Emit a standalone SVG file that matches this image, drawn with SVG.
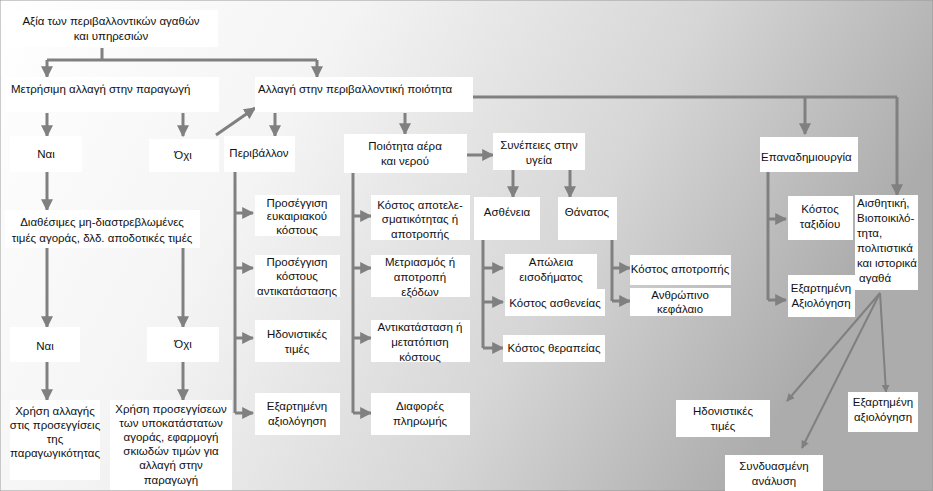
<svg xmlns="http://www.w3.org/2000/svg" width="933" height="491" viewBox="0 0 933 491">
<defs>
<linearGradient id="bg" x1="0" y1="0" x2="1" y2="0.3">
<stop offset="0" stop-color="#ffffff"/><stop offset="0.35" stop-color="#f4f4f4"/><stop offset="0.7" stop-color="#d6d6d6"/><stop offset="1" stop-color="#acacac"/>
</linearGradient>
<marker id="ah" viewBox="0 0 10 10" refX="9" refY="5" markerWidth="4" markerHeight="4" orient="auto" markerUnits="strokeWidth"><path d="M0,0 L10,5 L0,10 z" fill="#808080"/></marker>
</defs>
<style>
.b{fill:#ffffff}
text{font-family:"Liberation Sans",Arial,sans-serif;font-size:11.5px;fill:#111;text-anchor:middle}
.l{text-anchor:start}
.c path{fill:none;stroke:#808080;stroke-width:3}
.c .a{marker-end:url(#ah)}
</style>
<rect width="933" height="491" fill="url(#bg)" stroke="#999"/>
<g class="c">
<path d="M102,48 V60 M47,60 H317"/>
<path class="a" d="M47,60 V77"/><path class="a" d="M317,60 V77"/>
<path class="a" d="M47,113 V136"/><path class="a" d="M183,113 V136"/><path class="a" d="M275,113 V136"/><path class="a" d="M405,113 V134"/>
<path class="a" d="M216,135 L255,108"/>
<path class="a" d="M448,155 H493"/>
<path class="a" d="M47,172 V210"/>
<path class="a" d="M47,248 V327"/><path class="a" d="M183,248 V327"/>
<path class="a" d="M47,362 V400"/><path class="a" d="M183,362 V400"/>
<path d="M235,172 V413"/>
<path class="a" d="M235,213 H253"/><path class="a" d="M235,268 H253"/><path class="a" d="M235,338 H253"/><path class="a" d="M235,413 H253"/>
<path d="M353,173 V413"/>
<path class="a" d="M353,216 H371"/><path class="a" d="M353,268 H371"/><path class="a" d="M353,338 H371"/><path class="a" d="M353,413 H371"/>
<path class="a" d="M513,170 V197"/><path class="a" d="M570,170 V197"/>
<path d="M483,240 V348"/>
<path class="a" d="M483,268 H503"/><path class="a" d="M483,302 H503"/><path class="a" d="M483,348 H503"/>
<path d="M612,240 V301"/>
<path class="a" d="M612,268 H630"/><path class="a" d="M612,301 H630"/>
<path d="M473,97 H897"/>
<path class="a" d="M897,97 V195"/><path class="a" d="M805,97 V134"/>
<path d="M768,172 V300"/>
<path class="a" d="M768,219 H786"/><path class="a" d="M768,300 H786"/>
<path class="a" d="M880,293 L787,401" style="stroke-width:2"/>
<path class="a" d="M880,293 L802,448" style="stroke-width:2"/>
<path class="a" d="M880,293 L886,392" style="stroke-width:2"/>
</g>
<g id="n1"><rect class="b" x="5" y="10" width="213" height="37"/><text x="111" y="25">Αξία των περιβαλλοντικών αγαθών</text><text x="111" y="40">και υπηρεσιών</text></g>
<g id="n2"><rect class="b" x="5" y="77" width="214" height="35"/><text class="l" x="11" y="93">Μετρήσιμη αλλαγή στην παραγωγή</text></g>
<g id="n3"><rect class="b" x="255" y="77" width="218" height="35"/><text class="l" x="258" y="93">Αλλαγή στην περιβαλλοντική ποιότητα</text></g>
<g id="n4"><rect class="b" x="10" y="136" width="72" height="36"/><text x="46" y="158">Ναι</text></g>
<g id="n5"><rect class="b" x="149" y="139" width="70" height="33"/><text x="183" y="159">Όχι</text></g>
<g id="n6"><rect class="b" x="224" y="136" width="71" height="36"/><text x="259" y="157">Περιβάλλον</text></g>
<g id="n7"><rect class="b" x="344" y="134" width="123" height="39"/><text x="405" y="150">Ποιότητα αέρα</text><text x="405" y="165">και νερού</text></g>
<g id="n8"><rect class="b" x="493" y="133" width="92" height="37"/><text x="539" y="149">Συνέπειες στην</text><text x="539" y="164">υγεία</text></g>
<g id="n9"><rect class="b" x="5" y="210" width="195" height="38"/><text x="102" y="226">Διαθέσιμες μη-διαστρεβλωμένες</text><text x="102" y="242">τιμές αγοράς, δλδ. αποδοτικές τιμές</text></g>
<g id="n10"><rect class="b" x="255" y="195" width="85" height="41"/><text x="297" y="207">Προσέγγιση</text><text x="297" y="220">ευκαιριακού</text><text x="297" y="234">κόστους</text></g>
<g id="n11"><rect class="b" x="371" y="195" width="99" height="45"/><text x="420" y="209">Κόστος αποτελε-</text><text x="420" y="223">σματικότητας ή</text><text x="420" y="238">αποτροπής</text></g>
<g id="n12"><rect class="b" x="474" y="197" width="66" height="43"/><text x="507" y="216">Ασθένεια</text></g>
<g id="n13"><rect class="b" x="558" y="197" width="59" height="43"/><text x="587" y="216">Θάνατος</text></g>
<g id="n14"><rect class="b" x="255" y="255" width="85" height="42"/><text x="297" y="266">Προσέγγιση</text><text x="297" y="280">κόστους</text><text x="297" y="295">αντικατάστασης</text></g>
<g id="n15"><rect class="b" x="371" y="255" width="99" height="42"/><text x="420" y="266">Μετριασμός ή</text><text x="420" y="281">αποτροπή</text><text x="420" y="296">εξόδων</text></g>
<g id="n16"><rect class="b" x="505" y="254" width="92" height="35"/><text x="551" y="266">Απώλεια</text><text x="551" y="281">εισοδήματος</text></g>
<g id="n17"><rect class="b" x="505" y="289" width="100" height="27"/><text x="555" y="307">Κόστος ασθενείας</text></g>
<g id="n18"><rect class="b" x="503" y="335" width="102" height="27"/><text x="554" y="352">Κόστος θεραπείας</text></g>
<g id="n19"><rect class="b" x="630" y="255" width="101" height="30"/><text x="680" y="273">Κόστος αποτροπής</text></g>
<g id="n20"><rect class="b" x="630" y="288" width="101" height="28"/><text x="680" y="299">Ανθρώπινο</text><text x="680" y="313">κεφάλαιο</text></g>
<g id="n21"><rect class="b" x="760" y="137" width="98" height="35"/><text class="l" x="761" y="161">Επαναδημιουργία</text></g>
<g id="n22"><rect class="b" x="788" y="196" width="65" height="44"/><text x="820" y="213">Κόστος</text><text x="820" y="228">ταξιδίου</text></g>
<g id="n23"><rect class="b" x="855" y="195" width="63" height="95"/><text class="l" x="857" y="207">Αισθητική,</text><text class="l" x="857" y="222">Βιοποικιλό-</text><text class="l" x="857" y="237">τητα,</text><text class="l" x="857" y="252">πολιτιστικά</text><text class="l" x="857" y="267">και ιστορικά</text><text class="l" x="859" y="282">αγαθά</text></g>
<g id="n24"><rect class="b" x="788" y="275" width="67" height="42"/><text x="821" y="292">Εξαρτημένη</text><text x="821" y="307">Αξιολόγηση</text></g>
<g id="n25"><rect class="b" x="10" y="327" width="70" height="35"/><text x="45" y="350">Ναι</text></g>
<g id="n26"><rect class="b" x="147" y="327" width="72" height="35"/><text x="183" y="348">Όχι</text></g>
<g id="n27"><rect class="b" x="255" y="320" width="85" height="42"/><text x="297" y="338">Ηδονιστικές</text><text x="297" y="353">τιμές</text></g>
<g id="n28"><rect class="b" x="371" y="320" width="99" height="42"/><text x="420" y="331">Αντικατάσταση ή</text><text x="420" y="346">μετατόπιση</text><text x="420" y="361">κόστους</text></g>
<g id="n29"><rect class="b" x="255" y="393" width="85" height="42"/><text x="297" y="410">Εξαρτημένη</text><text x="297" y="425">αξιολόγηση</text></g>
<g id="n30"><rect class="b" x="371" y="393" width="99" height="42"/><text x="420" y="410">Διαφορές</text><text x="420" y="425">πληρωμής</text></g>
<g id="n31"><rect class="b" x="10" y="400" width="90" height="80"/><text x="55" y="415">Χρήση αλλαγής</text><text x="55" y="429">στις προσεγγίσεις</text><text x="55" y="443">της</text><text x="55" y="457">παραγωγικότητας</text></g>
<g id="n32"><rect class="b" x="110" y="400" width="122" height="90"/><text x="171" y="413">Χρήση προσεγγίσεων</text><text x="171" y="427">των υποκατάστατων</text><text x="171" y="441">αγοράς, εφαρμογή</text><text x="171" y="455">σκιωδών τιμών για</text><text x="171" y="469">αλλαγή στην</text><text x="171" y="484">παραγωγή</text></g>
<g id="n33"><rect class="b" x="676" y="400" width="94" height="37"/><text x="723" y="415">Ηδονιστικές</text><text x="723" y="430">τιμές</text></g>
<g id="n34"><rect class="b" x="848" y="392" width="70" height="40"/><text x="883" y="406">Εξαρτημένη</text><text x="883" y="421">αξιολόγηση</text></g>
<g id="n35"><rect class="b" x="725" y="455" width="98" height="36"/><text x="774" y="470">Συνδυασμένη</text><text x="774" y="485">ανάλυση</text></g>
</svg>
